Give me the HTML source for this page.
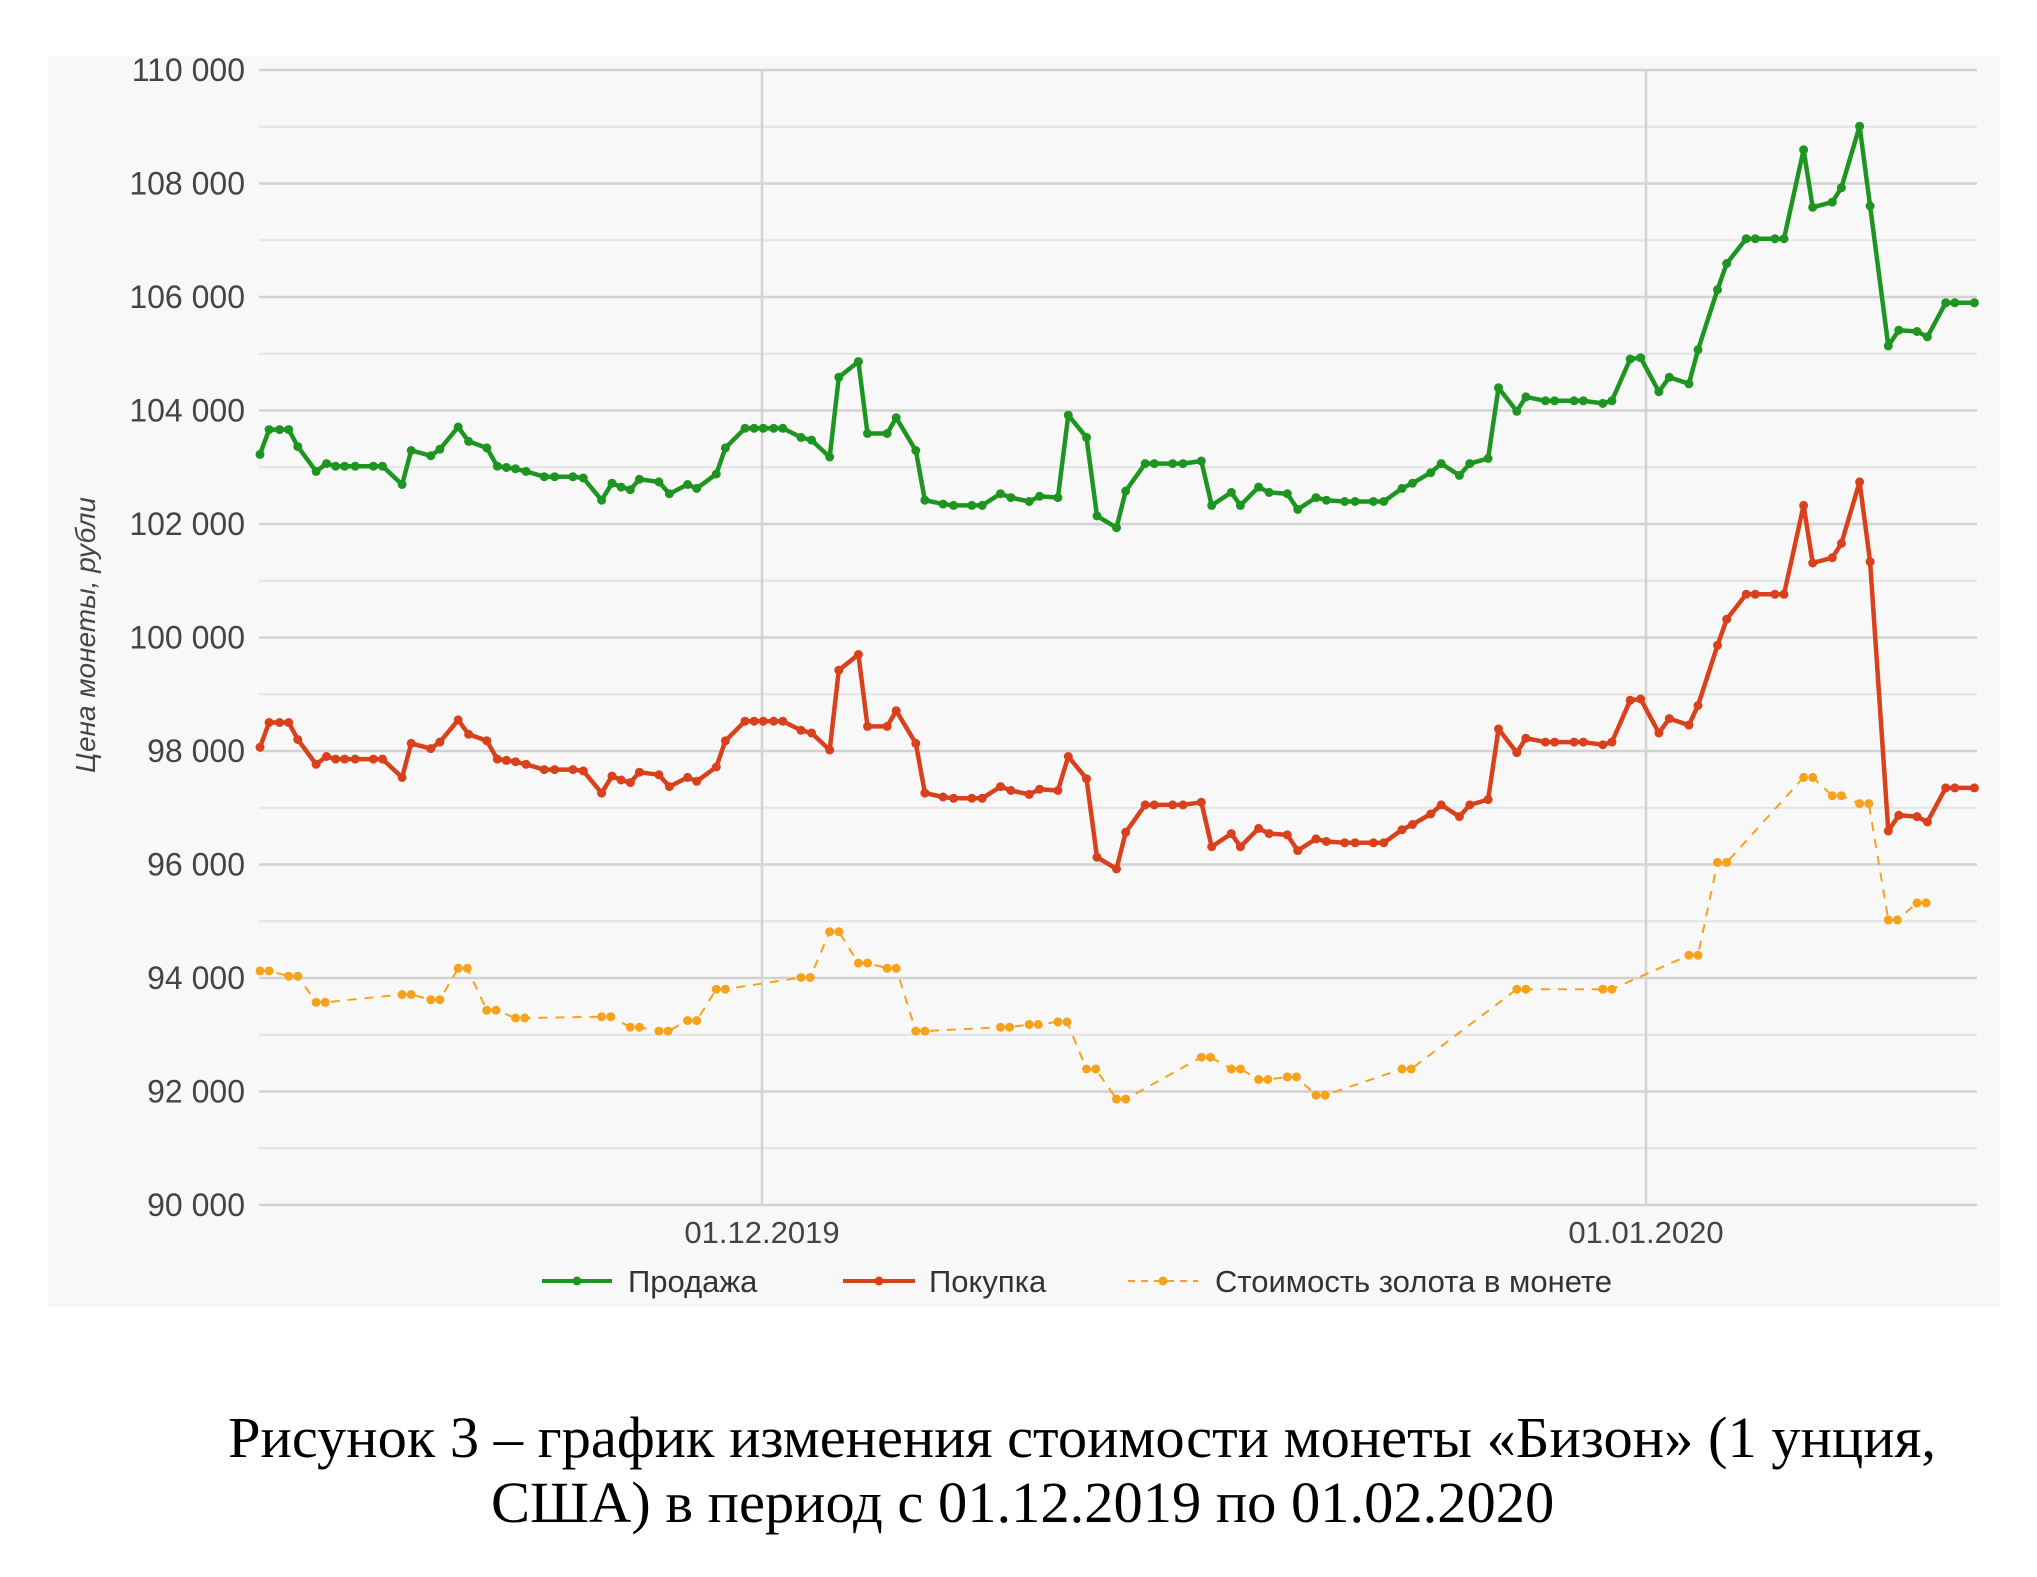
<!DOCTYPE html>
<html><head><meta charset="utf-8">
<style>
html,body{margin:0;padding:0;background:#fff;}
body{width:2037px;height:1577px;overflow:hidden;position:relative;}
svg{position:absolute;left:0;top:0;}
.cap{position:absolute;left:0;font-family:"Liberation Serif","Noto Serif CJK SC",serif;font-size:58.5px;color:#000;white-space:nowrap;}
</style></head>
<body>
<svg id="s" width="2037" height="1577" xmlns="http://www.w3.org/2000/svg"></svg>
<div class="cap" style="top:1404px;left:228px;">Рисунок 3 – график изменения стоимости монеты «Бизон» (1 унция,</div>
<div class="cap" style="top:1469px;left:491px;">США) в период с 01.12.2019 по 01.02.2020</div>
<script>
var s=document.getElementById('s');
var h='';
function X(x){return 260+(x-200)*1.3037;}
function Y(y){return 70+(y-54)*1.3076;}
function V(v){return 70+(110000-v)/2000*113.5;}
h+='<rect x="48" y="56" width="1952" height="1251" fill="#f8f8f8"/>';
for(var v=90000;v<=110000;v+=1000){
 var y=V(v);var major=(v%2000==0);
 h+='<line x1="259" x2="1977" y1="'+y+'" y2="'+y+'" stroke="'+(major?'#d2d2d2':'#e4e4e4')+'" stroke-width="'+(major?2.5:2)+'"/>';
 if(major){h+='<text x="245" y="'+(y+11)+'" text-anchor="end" font-family="Liberation Sans, sans-serif" font-size="32" fill="#444">'+(Math.floor(v/1000))+' 000</text>';}
}
[762,1646].forEach(function(x){h+='<line x1="'+x+'" x2="'+x+'" y1="70" y2="1205" stroke="#d4d4d4" stroke-width="2.5"/>';});
h+='<text x="762" y="1243" text-anchor="middle" font-family="Liberation Sans, sans-serif" font-size="31" fill="#444">01.12.2019</text>';
h+='<text x="1646" y="1243" text-anchor="middle" font-family="Liberation Sans, sans-serif" font-size="31" fill="#444">01.01.2020</text>';
h+='<text transform="translate(95,635) rotate(-90)" text-anchor="middle" font-family="Liberation Sans, sans-serif" font-style="italic" font-size="28" fill="#444">Цена монеты, рубли</text>';
var g=[200,348,207,329,215,329,222,329,229,342,243,361,251,355,258,357,265,357,273,357,287,357,294,357,309,371,316,345,331,349,338,344,352,327,360,338,374,343,382,357,389,358,396,359,404,361,418,365,426,365,440,365,448,366,462,383,470,370,477,373,484,375,491,367,506,369,514,378,528,371,535,374,550,363,557,343,572,328,579,328,586,328,594,328,601,328,615,335,623,337,637,350,644,289,659,277,666,332,681,332,688,320,703,345,710,383,724,386,732,387,746,387,754,387,768,378,776,381,790,384,798,380,812,381,820,318,834,335,842,395,857,404,864,376,879,355,886,355,900,355,908,355,922,353,930,387,945,377,952,387,966,373,974,377,988,378,996,390,1010,381,1018,383,1032,384,1040,384,1054,384,1062,384,1076,374,1084,370,1098,362,1106,355,1120,364,1128,355,1142,351,1150,297,1164,315,1171,304,1186,307,1193,307,1208,307,1215,307,1230,309,1237,307,1251,275,1259,274,1273,300,1281,289,1296,294,1303,268,1318,222,1325,202,1340,183,1347,183,1362,183,1369,183,1384,115,1391,159,1406,155,1413,144,1427,97,1435,158,1449,265,1457,253,1471,254,1479,258,1493,232,1500,232,1515,232];
var gp=[],rp=[];
for(var i=0;i<g.length;i+=2){var x=g[i],y=g[i+1];gp.push([X(x),Y(y)]);var d=x<816?224:(x<1300?261:(x<1445?272:371));rp.push([X(x),Y(y+d)]);}
var o=[200,743,222,747,243,767,309,761,331,765,352,741,374,773,396,779,462,778,484,786,506,789,528,781,550,757,615,748,637,713,659,737,681,741,703,789,768,786,790,784,812,782,834,818,857,841,922,809,945,818,966,826,988,824,1010,838,1076,818,1164,757,1230,757,1296,731,1318,660,1384,595,1406,609,1427,615,1449,704,1471,691];
var op=[];for(var i=0;i<o.length;i+=2){op.push([X(o[i]),Y(o[i+1])]);op.push([X(o[i]+7),Y(o[i+1])]);}
function series(p,c,w,dash,r){
 var d=p.map(function(q){return q[0].toFixed(1)+','+q[1].toFixed(1);}).join(' ');
 h+='<polyline points="'+d+'" fill="none" stroke="'+c+'" stroke-width="'+w+'" stroke-linejoin="round"'+(dash?' stroke-dasharray="'+dash+'"':'')+'/>';
 p.forEach(function(q){h+='<circle cx="'+q[0].toFixed(1)+'" cy="'+q[1].toFixed(1)+'" r="'+r+'" fill="'+c+'"/>';});
}
series(op,'#f7a21b',2,'9,8',4.5);
series(rp,'#d9401c',4.5,null,4.5);
series(gp,'#1e9520',4.5,null,4.5);
var ly=1281;
h+='<line x1="542" x2="612" y1="'+ly+'" y2="'+ly+'" stroke="#1e9520" stroke-width="4"/><circle cx="577" cy="'+ly+'" r="4.5" fill="#1e9520"/>';
h+='<text x="628" y="'+(ly+11)+'" font-family="Liberation Sans, sans-serif" font-size="31" fill="#333">Продажа</text>';
h+='<line x1="843" x2="915" y1="'+ly+'" y2="'+ly+'" stroke="#d9401c" stroke-width="4"/><circle cx="879" cy="'+ly+'" r="4.5" fill="#d9401c"/>';
h+='<text x="929" y="'+(ly+11)+'" font-family="Liberation Sans, sans-serif" font-size="31" fill="#333">Покупка</text>';
h+='<line x1="1128" x2="1198" y1="'+ly+'" y2="'+ly+'" stroke="#f7a21b" stroke-width="2" stroke-dasharray="7,6"/><circle cx="1163" cy="'+ly+'" r="4.5" fill="#f7a21b"/>';
h+='<text x="1215" y="'+(ly+11)+'" font-family="Liberation Sans, sans-serif" font-size="31" fill="#333">Стоимость золота в монете</text>';
s.innerHTML=h;
</script>
</body></html>
